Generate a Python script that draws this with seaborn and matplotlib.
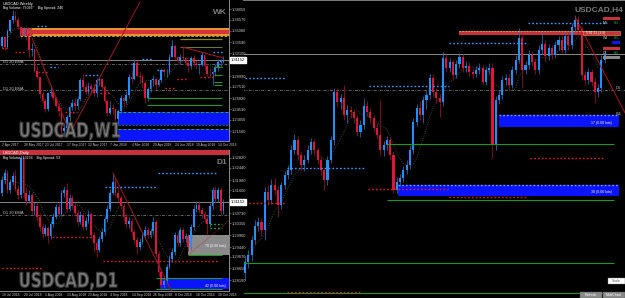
import numpy as np
import pandas as pd
import matplotlib
matplotlib.use("Agg")
import matplotlib.pyplot as plt
from matplotlib.patches import Rectangle, PathPatch
from matplotlib.textpath import TextPath
from matplotlib.font_manager import FontProperties
from matplotlib.transforms import Affine2D
import seaborn as sns

sns.set_theme(style="dark")
plt.rcParams['font.family'] = ['Liberation Sans', 'DejaVu Sans']

# ---------------- data : weekly ----------------
W_OPEN0 = 1.3300
W_CLOSE = [1.3425, 1.3290, 1.3505, 1.3650, 1.3710, 1.3660, 1.3560, 1.3485, 1.3490, 1.3470,
           1.3250, 1.3270, 1.2970, 1.2880, 1.2650, 1.2560, 1.2450, 1.2670, 1.2690, 1.2600,
           1.2500, 1.2420, 1.2160, 1.2190, 1.2340, 1.2480, 1.2540, 1.2490, 1.2590, 1.2840,
           1.2750, 1.2680, 1.2770, 1.2720, 1.2670, 1.2840, 1.2860, 1.2750, 1.2560, 1.2400,
           1.2470, 1.2460, 1.2320, 1.2430, 1.2600, 1.2560, 1.2640, 1.2890, 1.2860, 1.3070,
           1.2900, 1.2890, 1.2800, 1.2600, 1.2720, 1.2840, 1.2860, 1.2780, 1.2850, 1.2980,
           1.2950, 1.2950, 1.3160, 1.3300, 1.3150, 1.3100, 1.3150, 1.3140, 1.3070, 1.3030,
           1.3140, 1.3070, 1.3050, 1.3050, 1.3180, 1.3030, 1.2930, 1.2920, 1.2950, 1.3020,
           1.3090, 1.3090, 1.3115]
W_HIGH = [1.3440, 1.3440, 1.3530, 1.3660, 1.3790, 1.3780, 1.3700, 1.3580, 1.3560, 1.3540,
          1.3480, 1.3350, 1.3270, 1.3030, 1.2900, 1.2680, 1.2600, 1.2690, 1.2780, 1.2730,
          1.2620, 1.2530, 1.2480, 1.2260, 1.2370, 1.2500, 1.2590, 1.2600, 1.2630, 1.2870,
          1.2920, 1.2800, 1.2820, 1.2800, 1.2800, 1.2870, 1.2890, 1.2870, 1.2780, 1.2570,
          1.2560, 1.2520, 1.2470, 1.2450, 1.2640, 1.2620, 1.2700, 1.2930, 1.2980, 1.3130,
          1.3120, 1.2950, 1.2920, 1.2830, 1.2750, 1.2860, 1.2910, 1.2880, 1.2870, 1.2990,
          1.3010, 1.3000, 1.3200, 1.3386, 1.3330, 1.3170, 1.3200, 1.3290, 1.3160, 1.3120,
          1.3170, 1.3180, 1.3100, 1.3080, 1.3230, 1.3190, 1.3060, 1.3010, 1.2970, 1.3060,
          1.3130, 1.3135, 1.3170]
W_LOW = [1.3280, 1.3250, 1.3280, 1.3480, 1.3620, 1.3640, 1.3540, 1.3420, 1.3440, 1.3390,
         1.3160, 1.3170, 1.2950, 1.2860, 1.2600, 1.2530, 1.2410, 1.2420, 1.2630, 1.2580,
         1.2480, 1.2360, 1.2061, 1.2090, 1.2150, 1.2290, 1.2440, 1.2440, 1.2450, 1.2560,
         1.2730, 1.2660, 1.2650, 1.2690, 1.2630, 1.2610, 1.2780, 1.2730, 1.2540, 1.2360,
         1.2390, 1.2380, 1.2290, 1.2250, 1.2400, 1.2490, 1.2520, 1.2600, 1.2810, 1.2840,
         1.2880, 1.2810, 1.2740, 1.2530, 1.2560, 1.2690, 1.2770, 1.2730, 1.2770, 1.2820,
         1.2900, 1.2890, 1.2930, 1.3150, 1.3120, 1.3070, 1.3060, 1.3120, 1.3050, 1.2960,
         1.3000, 1.3040, 1.3000, 1.2930, 1.3030, 1.3000, 1.2900, 1.2890, 1.2782, 1.2900,
         1.2970, 1.3040, 1.3080]
W_DATES = ["2 Apr 2017", "28 May 2017", "23 Jul 2017", "17 Sep 2017", "12 Nov 2017", "7 Jan 2018",
           "4 Mar 2018", "29 Apr 2018", "24 Jun 2018", "19 Aug 2018", "14 Oct 2018"]
W_PRICE_TICKS = [1.3805, 1.3657, 1.3508, 1.3359, 1.3210, 1.2899, 1.2751, 1.2602, 1.2453, 1.2305, 1.2156]

# ---------------- data : daily ----------------
D_OPEN0 = 1.3150
D_CLOSE = [1.3200, 1.3225, 1.3160, 1.3190, 1.3215, 1.3165, 1.3140, 1.3280, 1.3150, 1.3120,
           1.3140, 1.3080, 1.3100, 1.3060, 1.3020, 1.2995, 1.3015, 1.2985, 1.3030, 1.3060,
           1.3095, 1.3070, 1.3150, 1.3160, 1.3090, 1.3130, 1.3100, 1.3075, 1.3040, 1.3065,
           1.3020, 1.3045, 1.3070, 1.2990, 1.2960, 1.2935, 1.2975, 1.3000, 1.3050, 1.3090,
           1.3150, 1.3190, 1.3150, 1.3130, 1.3100, 1.3060, 1.3030, 1.3045, 1.3000, 1.2970,
           1.2945, 1.2965, 1.2985, 1.3010, 1.2990, 1.3005, 1.3040, 1.2920, 1.2850, 1.2800,
           1.2815, 1.2870, 1.2900, 1.2925, 1.2990, 1.2960, 1.3010, 1.2975, 1.2985, 1.2945,
           1.3020, 1.3090, 1.3105, 1.3085, 1.3070, 1.3050, 1.3030, 1.3100, 1.3160, 1.3125,
           1.3160, 1.3080, 1.3115]
D_HIGH = [1.3212, 1.3240, 1.3236, 1.3204, 1.3228, 1.3236, 1.3180, 1.3292, 1.3285, 1.3170,
          1.3160, 1.3150, 1.3115, 1.3110, 1.3072, 1.3035, 1.3030, 1.3025, 1.3042, 1.3075,
          1.3108, 1.3112, 1.3162, 1.3175, 1.3187, 1.3145, 1.3142, 1.3112, 1.3085, 1.3080,
          1.3075, 1.3058, 1.3085, 1.3078, 1.3002, 1.2972, 1.2988, 1.3015, 1.3062, 1.3102,
          1.3165, 1.3225, 1.3205, 1.3168, 1.3142, 1.3112, 1.3072, 1.3058, 1.3055, 1.3012,
          1.2982, 1.2978, 1.2998, 1.3025, 1.3022, 1.3018, 1.3060, 1.3050, 1.2930, 1.2862,
          1.2830, 1.2882, 1.2915, 1.2940, 1.3002, 1.3005, 1.3022, 1.3020, 1.2998, 1.2995,
          1.3032, 1.3102, 1.3120, 1.3118, 1.3098, 1.3082, 1.3062, 1.3112, 1.3172, 1.3176,
          1.3172, 1.3170, 1.3128]
D_LOW = [1.3138, 1.3185, 1.3148, 1.3150, 1.3178, 1.3155, 1.3125, 1.3132, 1.3130, 1.3105,
         1.3110, 1.3068, 1.3065, 1.3045, 1.3005, 1.2980, 1.2985, 1.2960, 1.2975, 1.3020,
         1.3050, 1.3058, 1.3062, 1.3135, 1.3078, 1.3080, 1.3088, 1.3062, 1.3028, 1.3030,
         1.3008, 1.3010, 1.3035, 1.2978, 1.2925, 1.2905, 1.2925, 1.2962, 1.2990, 1.3040,
         1.3080, 1.3140, 1.3138, 1.3115, 1.3088, 1.3045, 1.3018, 1.3015, 1.2988, 1.2955,
         1.2920, 1.2932, 1.2955, 1.2975, 1.2978, 1.2980, 1.2995, 1.2905, 1.2835, 1.2782,
         1.2788, 1.2805, 1.2860, 1.2888, 1.2915, 1.2948, 1.2950, 1.2962, 1.2962, 1.2930,
         1.2935, 1.3010, 1.3078, 1.3072, 1.3055, 1.3035, 1.2990, 1.3020, 1.3090, 1.3112,
         1.3115, 1.3065, 1.3070]
D_DATES = ["10 Jul 2018", "20 Jul 2018", "1 Aug 2018", "13 Aug 2018", "23 Aug 2018", "4 Sep 2018",
           "14 Sep 2018", "26 Sep 2018", "8 Oct 2018", "18 Oct 2018", "30 Oct 2018"]
D_PRICE_TICKS = [1.3282, 1.3244, 1.3198, 1.3160, 1.3073, 1.3035, 1.2990, 1.2944, 1.2907, 1.2865, 1.2819]

# ---------------- data : H4 ----------------
H_OPEN0 = 1.2815
H_CLOSE = [1.2830, 1.2840, 1.2860, 1.2879, 1.2885, 1.2874, 1.2926, 1.2915, 1.2936, 1.2929,
           1.2908, 1.2936, 1.2949, 1.2956, 1.2983, 1.2997, 1.2977, 1.2963, 1.2970, 1.2983,
           1.2994, 1.2983, 1.2970, 1.2956, 1.2942, 1.2970, 1.2997, 1.3063, 1.3049, 1.3055,
           1.3031, 1.3038, 1.3036, 1.3027, 1.3008, 1.3018, 1.3044, 1.3036, 1.3027, 1.3014,
           1.3004, 1.2983, 1.2990, 1.2997, 1.2977, 1.2929, 1.2940, 1.2945, 1.2956, 1.2963,
           1.2983, 1.3022, 1.3041, 1.3031, 1.3052, 1.3059, 1.3082, 1.3063, 1.3055, 1.3049,
           1.3110, 1.3096, 1.3104, 1.3086, 1.3101, 1.3111, 1.3096, 1.3099, 1.3090, 1.3088,
           1.3093, 1.3096, 1.3077, 1.3093, 1.3096, 1.2990, 1.3052, 1.3059, 1.3079, 1.3082,
           1.3073, 1.3093, 1.3107, 1.3137, 1.3093, 1.3100, 1.3114, 1.3104, 1.3093, 1.3121,
           1.3129, 1.3112, 1.3123, 1.3114, 1.3127, 1.3134, 1.3121, 1.3140, 1.3127, 1.3152,
           1.3162, 1.3148, 1.3086, 1.3079, 1.3090, 1.3077, 1.3063, 1.3068, 1.3107, 1.3114]
H_HIGH = [1.2838, 1.2846, 1.2866, 1.2888, 1.2892, 1.2890, 1.2933, 1.2935, 1.2944, 1.2945,
          1.2934, 1.2940, 1.2955, 1.2963, 1.2990, 1.3006, 1.3003, 1.2982, 1.2976, 1.2990,
          1.3000, 1.2999, 1.2988, 1.2975, 1.2960, 1.2975, 1.3003, 1.3069, 1.3068, 1.3060,
          1.3073, 1.3045, 1.3044, 1.3040, 1.3032, 1.3024, 1.3055, 1.3050, 1.3041, 1.3032,
          1.3020, 1.3052, 1.2996, 1.3002, 1.3001, 1.2982, 1.2946, 1.2951, 1.2962, 1.2970,
          1.2990, 1.3028, 1.3047, 1.3050, 1.3058, 1.3066, 1.3088, 1.3087, 1.3069, 1.3060,
          1.3118, 1.3115, 1.3110, 1.3108, 1.3107, 1.3117, 1.3115, 1.3105, 1.3104, 1.3096,
          1.3099, 1.3102, 1.3100, 1.3098, 1.3103, 1.3102, 1.3058, 1.3066, 1.3085, 1.3088,
          1.3087, 1.3099, 1.3113, 1.3151, 1.3144, 1.3106, 1.3120, 1.3119, 1.3109, 1.3127,
          1.3145, 1.3134, 1.3129, 1.3128, 1.3133, 1.3140, 1.3139, 1.3146, 1.3145, 1.3158,
          1.3169, 1.3167, 1.3153, 1.3092, 1.3096, 1.3095, 1.3082, 1.3074, 1.3113, 1.3120]
H_LOW = [1.2805, 1.2822, 1.2832, 1.2855, 1.2872, 1.2866, 1.2860, 1.2908, 1.2910, 1.2922,
         1.2892, 1.2902, 1.2930, 1.2944, 1.2950, 1.2978, 1.2970, 1.2956, 1.2955, 1.2965,
         1.2978, 1.2977, 1.2964, 1.2949, 1.2929, 1.2936, 1.2965, 1.2990, 1.3042, 1.3040,
         1.3025, 1.3020, 1.3028, 1.3020, 1.3002, 1.3001, 1.3012, 1.3030, 1.3020, 1.3008,
         1.2998, 1.2977, 1.2975, 1.2984, 1.2970, 1.2925, 1.2924, 1.2934, 1.2940, 1.2950,
         1.2958, 1.2978, 1.3016, 1.3024, 1.3021, 1.3040, 1.3054, 1.3058, 1.3048, 1.3029,
         1.3044, 1.3090, 1.3090, 1.3080, 1.3082, 1.3096, 1.3090, 1.3091, 1.3085, 1.3082,
         1.3083, 1.3088, 1.3072, 1.3072, 1.3088, 1.2973, 1.2984, 1.3046, 1.3053, 1.3072,
         1.3067, 1.3068, 1.3088, 1.3102, 1.3068, 1.3087, 1.3094, 1.3098, 1.3088, 1.3088,
         1.3115, 1.3106, 1.3107, 1.3108, 1.3109, 1.3121, 1.3116, 1.3116, 1.3121, 1.3122,
         1.3146, 1.3143, 1.3080, 1.3073, 1.3074, 1.3071, 1.3048, 1.3056, 1.3063, 1.3102]

BID = 1.31152
BID_TEXT = "1.31152"

# ---------------- figure / layout ----------------
W, H = 625, 298
fig = plt.figure(figsize=(W / 100, H / 100), dpi=100, facecolor='black')


def px_rect(x0, y0, x1, y1):
    return [x0 / W, 1 - y1 / H, (x1 - x0) / W, (y1 - y0) / H]


ax_h = fig.add_axes(px_rect(244, 0, 625, 298), zorder=0)
ax_w = fig.add_axes(px_rect(0, 0, 229, 141), zorder=2)
ax_d = fig.add_axes(px_rect(0, 150, 229, 291), zorder=2)
ov = fig.add_axes([0, 0, 1, 1], zorder=20)
ov.set_xlim(0, W)
ov.set_ylim(H, 0)
ov.axis('off')
ov.patch.set_alpha(0)

BLUE, RED = '#1e90ff', '#e0143c'
BLUE_W, RED_W = '#2a6fb8', '#a0102a'
GRAYTXT = '#c8c8c8'
GREEN = '#1f9a1f'
SMALL = 2.9
DATESZ = 2.4


def ohlc(open0, close, high, low):
    c = np.asarray(close)
    o = np.r_[open0, c[:-1]]
    return o, np.asarray(high), np.asarray(low), c


def draw_candles(ax, o, h, l, c, width, min_body):
    x = np.arange(len(c))
    up = c >= o
    ax.vlines(x, l, h, colors=np.where(up, BLUE_W, RED_W), linewidth=0.55, zorder=3)
    body = np.maximum(np.abs(c - o), min_body)
    ax.bar(x, body, bottom=np.minimum(o, c), width=width,
           color=np.where(up, BLUE, RED), linewidth=0, zorder=4)
    ma = pd.Series(c).rolling(8, min_periods=1).mean()
    sns.lineplot(x=x, y=ma.values, ax=ax, color='#3c4a3c', linestyle=(0, (1, 1.5)),
                 linewidth=0.7, zorder=2)


def style_axes(ax, xlim, ylim):
    ax.set_facecolor('black')
    ax.set_xlim(*xlim)
    ax.set_ylim(*ylim)
    ax.grid(False)
    for s in ['left', 'top']:
        ax.spines[s].set_visible(False)
    for s in ['right', 'bottom']:
        ax.spines[s].set_color('#8c8c8c')
        ax.spines[s].set_linewidth(0.7)
    ax.yaxis.tick_right()
    ax.tick_params(axis='y', colors='#9a9a9a', labelcolor=GRAYTXT, labelsize=SMALL,
                   length=1.5, width=0.4, pad=0.8)
    ax.tick_params(axis='x', colors='#9a9a9a', labelcolor=GRAYTXT, labelsize=DATESZ,
                   length=1.2, width=0.4, pad=0.3)
    ax.set_xlabel('')
    ax.set_ylabel('')


def hline(ax, y, x0, x1, color, lw=0.8, ls='-', z=5):
    ax.plot([x0, x1], [y, y], color=color, lw=lw, ls=ls, zorder=z, solid_capstyle='butt')


def dotted(ax, y, x0, x1, color, z=6):
    ax.plot([x0, x1], [y, y], color=color, lw=1.0, ls=(0, (1.2, 1.5)), zorder=z)


def big_label(text, x0, y0, x1, y1):
    fp = FontProperties(family='DejaVu Sans', weight='bold')
    tp = TextPath((0, 0), text, size=1, prop=fp)
    bb = tp.get_extents()
    sx = (x1 - x0) / bb.width
    sy = (y1 - y0) / bb.height
    tr = Affine2D().translate(-bb.x0, -bb.y0).scale(sx, -sy).translate(x0, y1)
    path = tr.transform_path(tp)
    ov.add_patch(PathPatch(path, facecolor='#7a7a7a', edgecolor='#3c3c3c', lw=0.8, zorder=21))


def bid_box(ax, y):
    ax.annotate(BID_TEXT, xy=(1.0, y), xycoords=('axes fraction', 'data'),
                xytext=(1.5, 0), textcoords='offset points', fontsize=SMALL, color='black',
                va='center', ha='left', annotation_clip=False,
                bbox=dict(boxstyle='square,pad=0.2', fc='white', ec='white'))


# ================= WEEKLY =================
o, h, l, c = ohlc(W_OPEN0, W_CLOSE, W_HIGH, W_LOW)
style_axes(ax_w, (-0.74, 84.07), (1.2021, 1.3927))
R = 84.07
ax_w.add_patch(Rectangle((6.7, 1.3440), R - 6.7, 0.0108, fc='#e8952c', ec='none', zorder=1))
ax_w.add_patch(Rectangle((6.7, 1.3470), R - 6.7, 0.0050, fc='#d4323c', ec='none', zorder=1))
ax_w.add_patch(Rectangle((6.7, 1.3440), 4.3, 0.0108, fc='#c83c46', ec='none', zorder=1))
hline(ax_w, 1.3434, 6.7, R, '#d8c040', 0.6, (0, (3, 2)))
ax_w.add_patch(Rectangle((43, 1.2237), R - 43, 0.0176, fc='#0a14ff', ec='none', zorder=1))
ax_w.add_patch(Rectangle((43, 1.2021), R - 43, 0.0162, fc='#0a14ff', ec='none', zorder=1))
hline(ax_w, 1.2413, 43, R, '#2faa2f', 0.7, (0, (3, 2)))
hline(ax_w, 1.2183, 43, R, '#2faa2f', 0.7, (0, (3, 2)))
hline(ax_w, 1.2237, 43, R, '#2faa2f', 0.5, (0, (3, 2)))
for y in [1.2602, 1.2507]:
    hline(ax_w, y, 53.7, 81.5, GREEN, 0.8)
hline(ax_w, 1.3400, 66.0, 81.5, '#8a8a1a', 0.9)
hline(ax_w, 1.3292, 66.0, 81.5, '#6f7f1a', 0.7)
for y in [1.3021, 1.2913, 1.2818, 1.2778]:
    hline(ax_w, y, 78.5, 81.5, GREEN, 0.8)
for y in [1.3062, 1.2710]:
    hline(ax_w, y, -1, R, '#8a8a8a', 0.5, (0, (4, 2, 1, 2)), z=2)
hline(ax_w, BID, -1, R, '#9a9a9a', 0.6, z=2)
ax_w.plot([11.1, 25.2, 51.1], [1.3413, 1.2129, 1.3900], color='#a01818', lw=0.7, zorder=5)
ax_w.plot([66.7, 81.9], [1.3292, 1.3143], color='#a01818', lw=0.8, zorder=5)
for y, a, b in [(1.3575, 13, 17), (1.3021, 17.8, 20.7), (1.2913, 30.7, 36.3),
                (1.3129, 51.9, 56), (1.2981, 57.4, 59.6), (1.3224, 78.1, 81.9)]:
    dotted(ax_w, y, a, b, '#3a9aff')
for y, a, b in [(1.3278, 0, 2.2), (1.3224, 4.8, 8.5), (1.2954, 13.3, 17), (1.2413, 23.3, 27.8),
                (1.2670, 36.3, 40), (1.2737, 60.4, 64), (1.2859, 64.8, 68.5), (1.2886, 73.3, 78.1)]:
    dotted(ax_w, y, a, b, '#e02020')
draw_candles(ax_w, o, h, l, c, 0.62, 0.0006)
ax_w.set_yticks(W_PRICE_TICKS)
ax_w.set_yticklabels([f"{v:.5f}" for v in W_PRICE_TICKS])
ax_w.set_xticks(np.arange(0, 81, 8))
ax_w.set_xticklabels(W_DATES, ha='left')
bid_box(ax_w, BID)

# ================= DAILY =================
o, h, l, c = ohlc(D_OPEN0, D_CLOSE, D_HIGH, D_LOW)
style_axes(ax_d, (-0.74, 84.07), (1.2778, 1.3312))
ax_d.add_patch(Rectangle((0, 0.965), 1, 0.035, transform=ax_d.transAxes, fc='#c8323c',
                         ec='none', zorder=8))
ax_d.add_patch(Rectangle((68.9, 1.2914), R - 68.9, 0.0076, fc='#8a8a8a', ec='none', zorder=1))
ax_d.add_patch(Rectangle((58.5, 1.2785), R - 58.5, 0.0042, fc='#0a14ff', ec='none', zorder=1))
hline(ax_d, 1.2914, 68.9, 81.5, GREEN, 0.8)
hline(ax_d, 1.2827, 57.0, 81.5, GREEN, 0.8)
hline(ax_d, 1.2785, 57.0, 81.5, GREEN, 0.8)
for y in [1.3032, 1.3016]:
    dotted(ax_d, y, 77, 81.5, '#2faa2f')
hline(ax_d, 1.3066, -1, R, '#8a8a8a', 0.5, (0, (4, 2, 1, 2)), z=2)
hline(ax_d, BID, -1, R, '#9a9a9a', 0.6, z=2)
ax_d.plot([41.1, 64.1], [1.3225, 1.2751], color='#a01818', lw=0.7, zorder=5)
ax_d.plot([68.9, 84.4], [1.2914, 1.3047], color='#d02020', lw=0.5, ls=(0, (1, 1)), zorder=5)
dotted(ax_d, 1.3172, 38.1, 57.4, '#3a9aff')
dotted(ax_d, 1.3225, 57.8, 80.0, '#3a9aff')
for y, a, b in [(1.2982, 18.5, 35), (1.2891, 37.4, 80), (1.2865, 0, 14.8)]:
    dotted(ax_d, y, a, b, '#e02020')
draw_candles(ax_d, o, h, l, c, 0.62, 0.00025)
ax_d.set_yticks(D_PRICE_TICKS)
ax_d.set_yticklabels([f"{v:.5f}" for v in D_PRICE_TICKS])
ax_d.set_xticks(np.arange(0, 81, 8))
ax_d.set_xticklabels(D_DATES, ha='left')
bid_box(ax_d, BID)

# ================= H4 =================
o, h, l, c = ohlc(H_OPEN0, H_CLOSE, H_HIGH, H_LOW)
style_axes(ax_h, (-0.30, 115.15), (1.27807, 1.3189))
ax_h.spines['right'].set_visible(False)
ax_h.spines['bottom'].set_visible(False)
ax_h.spines['top'].set_visible(True)
ax_h.spines['top'].set_color('#8c8c8c')
ax_h.set_xticks([])
ax_h.set_yticks([])
RH = 115.15
ax_h.add_patch(Rectangle((77, 1.3015), 113.3 - 77, 0.0016, fc='#0a14ff', ec='none', zorder=1))
ax_h.add_patch(Rectangle((46.4, 1.2921), 113.3 - 46.4, 0.0015, fc='#0a14ff', ec='none', zorder=1))
dotted(ax_h, 1.3031, 77, 113.3, '#6fa0ff')
dotted(ax_h, 1.2936, 46.4, 113.3, '#6fa0ff')
for y in [1.2992, 1.2915, 1.2829, 1.2788]:
    hline(ax_h, y, 43 if y > 1.29 else -1, 111.8, GREEN, 0.8)
hline(ax_h, 1.3066, -1, RH, '#8a8a8a', 0.5, (0, (4, 2, 1, 2)), z=2)
hline(ax_h, BID, -1, RH, '#8a8a8a', 0.7, z=2)
ax_h.plot([100, 115.2], [1.3166, 1.3034], color='#b01818', lw=0.7, zorder=5)
# red supply strip near the top
ax_h.add_patch(Rectangle((65.0, 1.3141), 41.5, 0.0005, fc='#c8323c', ec='none', zorder=1))
hline(ax_h, 1.3146, 65.0, 106.5, '#e0b040', 0.6, (0, (2, 1.5)))
for y, a, b in [(1.3082, 0, 12), (1.3071, 37.6, 61.8), (1.3130, 61.8, 85.8),
                (1.3157, 85.8, 109.7), (1.2959, 12.7, 36.4)]:
    dotted(ax_h, y, a, b, '#3a9aff')
for y, a, b in [(1.2911, 0, 12.4), (1.2930, 37.3, 61.5), (1.2973, 86.4, 109),
                (1.2919, 61.8, 85.8), (1.2789, 12.7, 35)]:
    dotted(ax_h, y, a, b, '#e02020')
draw_candles(ax_h, o, h, l, c, 0.62, 0.00008)

# ================= texts / decorations =================
ov.text(3, 4, "USDCAD,Weekly", fontsize=SMALL, color='white', va='center')
ov.text(3, 8.5, "Big Volume: 75096*    Big Spread: 246", fontsize=2.5, color='white', va='center')
ov.text(3, 153, "USDCAD,Daily", fontsize=SMALL, color='white', va='center', zorder=30)
ov.text(3, 158, "Big Volume: 13234    Big Spread: 53", fontsize=2.5, color='white', va='center')
ov.text(3, 62, "D1 20 EMA", fontsize=SMALL, color=GRAYTXT, va='center')
ov.text(3, 88.5, "D1 20 EMA", fontsize=SMALL, color=GRAYTXT, va='center')
ov.text(3, 213, "D1 20 EMA", fontsize=SMALL, color=GRAYTXT, va='center')
ov.text(227, 12, "WK", fontsize=6, color='#7a7a7a', weight='bold', ha='right', va='center')
ov.text(227, 163, "D1", fontsize=6, color='#7a7a7a', weight='bold', ha='right', va='center')
ov.text(623, 10, "USDCAD,H4", fontsize=6, color='#7a7a7a', weight='bold', ha='right', va='center')
big_label("USDCAD,W1", 20, 122, 120, 140)
big_label("USDCAD,D1", 20, 272, 117, 290)
ov.text(226, 246, "78 (0.00 lots)", fontsize=2.5, color='white', ha='right', va='center')
ov.text(226, 286, "42 (0.00 lots)", fontsize=2.5, color='white', ha='right', va='center')
ov.text(612, 123, "17 (0.00 lots)", fontsize=2.5, color='white', ha='right', va='center')
ov.text(612, 192, "38 (0.00 lots)", fontsize=2.5, color='white', ha='right', va='center')
for yy, t in [(88, "D1"), (114, "W1")]:
    ov.text(616, yy, t, fontsize=SMALL, color=GRAYTXT, va='center')
# H4 info widget (top right)
ov.add_patch(Rectangle((603, 17), 17, 3, fc='#c8323c', ec='none', zorder=22))
ov.text(603, 23, "MN", fontsize=2.5, color=GRAYTXT, va='center', zorder=23)
ov.text(614, 23, "0%", fontsize=2.5, color='#2fbf2f', va='center', zorder=23)
ov.add_patch(Rectangle((583, 31), 37, 4, fc='#c8323c', ec='#e0b040', lw=0.4, zorder=22))
ov.text(586, 33, "5:01:11 (3.9)", fontsize=2.4, color='white', va='center', zorder=23)
ov.text(603, 38, "W1", fontsize=2.5, color=GRAYTXT, va='center', zorder=23)
ov.text(614, 38, "0%", fontsize=2.5, color='#2fbf2f', va='center', zorder=23)
ov.add_patch(Rectangle((612, 41), 8, 3, fc='#0a14ff', ec='none', zorder=22))
ov.add_patch(Rectangle((603, 47), 17, 3, fc='#c8323c', ec='none', zorder=22))
ov.text(603, 53, "D1", fontsize=2.5, color=GRAYTXT, va='center', zorder=23)
ov.text(614, 53, "0%", fontsize=2.5, color='#2fbf2f', va='center', zorder=23)
ov.add_patch(Rectangle((603, 56), 17, 3, fc='#8a8a8a', ec='none', zorder=22))
for x0, x1, t in [(580, 602, "Refresh"), (603, 625, "MultiChart")]:
    ov.add_patch(Rectangle((x0, 292), x1 - x0, 6, fc='#8a8a8a', ec='#5a5a5a', lw=0.3, zorder=22))
    ov.text((x0 + x1) / 2, 295, t, fontsize=2.5, color='white', ha='center', va='center', zorder=23)
ov.add_patch(Rectangle((608, 278), 17, 6, fc='white', ec='#8a8a8a', lw=0.3, zorder=22))
ov.text(616.5, 281, "Scale", fontsize=2.5, color='#555555', ha='center', va='center', zorder=23)

fig.savefig("out.png", dpi=100, facecolor='black')
